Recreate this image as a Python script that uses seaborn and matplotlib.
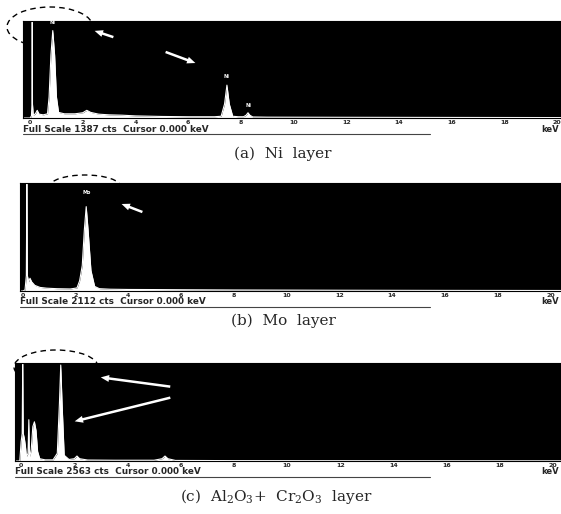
import numpy as np
import pandas as pd
import seaborn as sns
import matplotlib
matplotlib.use("Agg")
import matplotlib.pyplot as plt
from matplotlib.patches import Ellipse, FancyArrowPatch
from matplotlib.lines import Line2D

sns.set_style("white")
plt.rcParams["font.family"] = ["DejaVu Sans"]
plt.rcParams["mathtext.fontset"] = "dejavuserif"

# ---- EDS spectra (energy in keV, counts) ----
energy_ni = [-0.27, 0.00, 0.05, 0.07, 0.08, 0.09, 0.12, 0.20, 0.27, 0.34, 0.50, 0.66,
             0.72, 0.79, 0.86, 0.93, 1.00, 1.08, 1.30, 1.70, 2.00, 2.15, 2.30, 2.60,
             3.00, 3.50, 4.00, 5.00, 6.00, 7.00, 7.25, 7.38, 7.47, 7.56, 7.69, 7.90,
             8.10, 8.20, 8.27, 8.34, 8.45, 9.00, 12.0, 16.0, 20.4]
counts_ni = [0, 0, 30, 200, 1387, 200, 40, 60, 110, 55, 45, 60,
             300, 900, 1250, 900, 300, 80, 60, 60, 75, 110, 80, 55,
             45, 40, 30, 22, 18, 18, 25, 200, 470, 200, 25, 18,
             18, 40, 75, 40, 15, 12, 10, 8, 6]

energy_mo = [-0.11, 0.00, 0.08, 0.13, 0.15, 0.17, 0.22, 0.27, 0.33, 0.45, 0.65, 0.90,
             1.30, 1.80, 2.05, 2.15, 2.25, 2.33, 2.40, 2.47, 2.58, 2.72, 2.90, 3.30,
             4.00, 5.00, 6.00, 8.00, 12.0, 16.0, 20.4]
counts_mo = [0, 0, 20, 300, 2112, 300, 180, 250, 180, 110, 70, 55,
             45, 40, 60, 200, 500, 1200, 1650, 1200, 400, 90, 45, 35,
             30, 28, 25, 20, 15, 12, 10]

energy_ox = [-0.23, -0.05, 0.00, 0.04, 0.06, 0.08, 0.12, 0.16, 0.20, 0.26, 0.29, 0.31,
             0.33, 0.38, 0.44, 0.50, 0.56, 0.62, 0.70, 0.90, 1.20, 1.36, 1.44, 1.49,
             1.54, 1.62, 1.80, 2.00, 2.10, 2.20, 2.50, 3.50, 5.00, 5.30, 5.41, 5.52,
             5.80, 8.00, 12.0, 16.0, 20.4]
counts_ox = [0, 0, 500, 720, 2563, 720, 600, 400, 120, 200, 1080, 200,
             120, 300, 900, 1025, 800, 250, 60, 30, 30, 200, 1500, 2510,
             1500, 150, 40, 60, 130, 60, 25, 20, 20, 60, 130, 60,
             15, 10, 8, 6, 5]

full_scale = [1387, 2112, 2563]
tick_values = list(range(0, 21, 2))
tick_labels = [str(v) for v in tick_values]
captions = ["(a)  Ni  layer", "(b)  Mo  layer",
            r"(c)  Al$_2$O$_3$+  Cr$_2$O$_3$  layer"]
peak_labels = [[("Ni", 0.86, 1330), ("Ni", 7.47, 560), ("Ni", 8.27, 150)],
               [("Mo", 2.40, 1880)],
               []]

W, H = 561, 514
fig = plt.figure(figsize=(W / 100, H / 100), dpi=100)


def fx(x):
    return x / W


def fy(y):
    return 1 - y / H


def box(x0, y0, x1, y1):
    return [fx(x0), fy(y1), (x1 - x0) / W, (y1 - y0) / H]


# panel geometry in pixels: left, top, right, bottom, xlim, status-text row, caption
panels = [
    dict(rect=(23, 21, 561, 118), xlim=(-0.27, 20.15), text_y=129, cap=(283, 154)),
    dict(rect=(20, 183, 561, 291), xlim=(-0.11, 20.4), text_y=302, cap=(283, 321)),
    dict(rect=(15, 363, 561, 461), xlim=(-0.23, 20.3), text_y=472, cap=(276, 496)),
]
spectra = [(energy_ni, counts_ni), (energy_mo, counts_mo), (energy_ox, counts_ox)]

for i, (p, (en, ct)) in enumerate(zip(panels, spectra)):
    ax = fig.add_axes(box(*p["rect"]))
    ax.set_facecolor("black")
    df = pd.DataFrame({"energy": en, "counts": ct})
    ax.fill_between(df["energy"], 0, df["counts"], color="white", lw=0)
    sns.lineplot(data=df, x="energy", y="counts", ax=ax, color="white",
                 lw=0.8, estimator=None, sort=False)
    ax.set_xlim(*p["xlim"])
    ax.set_ylim(0, full_scale[i])
    ax.set_xlabel("")
    ax.set_ylabel("")
    ax.set_yticks([])
    ax.set_xticks(tick_values)
    ax.set_xticklabels(tick_labels, fontsize=4.5, fontweight="bold")
    ax.tick_params(axis="x", direction="out", length=1.5, width=0.6,
                   color="black", pad=0.2)
    for s in ax.spines.values():
        s.set_color("black")
    for lab, xe, yc in peak_labels[i]:
        ax.text(xe, yc, lab, color="white", fontsize=3.5, ha="center",
                va="bottom", fontweight="bold")

    x0, y0, x1, y1 = p["rect"]
    fig.text(fx(x0), fy(p["text_y"]),
             f"Full Scale {full_scale[i]} cts  Cursor 0.000 keV",
             fontsize=6.4, fontweight="bold", ha="left", va="center")
    fig.text(fx(559), fy(p["text_y"]), "keV", fontsize=6.0,
             fontweight="bold", ha="right", va="center")
    fig.add_artist(Line2D([fx(x0), fx(430)], [fy(p["text_y"] + 4.5)] * 2,
                          color="#444444", lw=0.8))
    fig.text(fx(p["cap"][0]), fy(p["cap"][1]), captions[i], fontsize=11,
             family="DejaVu Serif", ha="center", va="center")

# dashed outlines marking the low-energy peaks
for cx, cy, w, h in [(50, 27, 86, 40), (85, 187, 72, 24), (56, 367, 84, 34)]:
    fig.add_artist(Ellipse((fx(cx), fy(cy)), w / W, h / H, fill=False,
                           ec="black", lw=1.0, ls=(0, (4, 3)),
                           transform=fig.transFigure, zorder=-1))

# white arrows pointing at the peaks
for (xa, ya), (xb, yb) in [((116, 38), (92, 30)), ((163, 51), (198, 64)),
                           ((145, 213), (119, 203)),
                           ((173, 387), (98, 377)), ((173, 397), (72, 422))]:
    fig.add_artist(FancyArrowPatch((fx(xa), fy(ya)), (fx(xb), fy(yb)),
                                   transform=fig.transFigure,
                                   arrowstyle="simple,head_width=5,head_length=6,tail_width=1.8",
                                   color="white", lw=0, zorder=5))

fig.savefig("out.png", dpi=100)
